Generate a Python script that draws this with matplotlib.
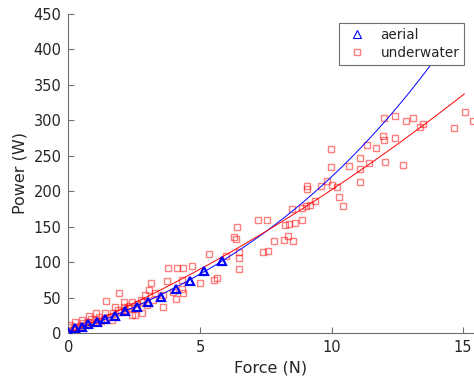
import numpy as np
import matplotlib
matplotlib.use('Agg')
import matplotlib.pyplot as plt

# aerial thrust test (triangles)
aerial_force = [0, 0.25, 0.51, 0.74, 1.08, 1.39, 1.77, 2.15, 2.6, 3.03, 3.52, 4.09, 4.62, 5.15, 5.84]
aerial_power = [1.4, 7, 8.5, 12.7, 15.5, 19.7, 24, 31, 36.7, 43.7, 50.8, 62, 73, 87, 101.5]

# underwater thrust test (squares)
water_force = [12.0, 12.42, 13.1, 12.84, 13.48, 13.37, 15.08, 15.38, 14.66, 11.96,
               12.0, 12.42, 11.35, 11.69, 9.98, 9.98, 10.66, 11.08, 11.08, 11.43,
               12.03, 12.72, 11.08, 9.07, 9.07, 9.6, 9.83, 10.02, 10.2, 10.29,
               10.44, 9.37, 9.18, 9.03, 8.87, 8.49, 8.88, 8.63, 8.38, 8.23,
               8.19, 8.35, 8.52, 7.81, 7.41, 7.6, 7.22, 7.55, 6.39, 6.31,
               6.35, 6.49, 6.49, 6.47, 5.99, 5.35, 5.63, 5.53, 5.0, 3.79,
               4.11, 4.36, 4.68, 4.3, 3.73, 4.3, 4.34, 4.08, 3.6, 3.13,
               3.07, 3.6, 3.98, 2.91, 3.29, 3.22, 1.93, 1.44, 2.1, 2.41,
               2.1, 1.78, 2.25, 2.41, 2.79, 2.53, 1.06, 1.4, 1.7, 0.77,
               0.51, 0.26, 0.07, 0.0, 0.05, 0.15, 0.25, 0.3, 0.45, 0.55,
               0.65, 0.75, 0.85, 0.95, 1.05, 1.15, 1.25, 1.35, 1.55, 1.65,
               1.9, 2.0, 2.15, 2.3, 2.6, 2.75, 2.85, 3.0]
water_power = [303, 306, 303, 299, 295, 291, 312, 299, 289, 278,
               272, 275, 265, 261, 260, 234, 236, 247, 231, 240,
               241, 237, 213, 207, 203, 207, 214, 209, 206, 192,
               179, 186, 181, 179, 176, 175, 159, 155, 154, 152,
               131, 137, 130, 130, 114, 115, 160, 159, 150, 136,
               132, 114, 106, 90, 108, 111, 77, 75, 70, 91,
               91, 92, 95, 75, 73, 62, 57, 48, 37, 70,
               61, 54, 58, 54, 56, 47, 56, 45, 44, 44,
               37, 36, 35, 26, 28, 25, 28, 28, 28, 24,
               19, 16, 11, 8, 2, 4, 6, 9, 10, 14,
               11, 16, 20, 14, 18, 22, 17, 20, 23, 19,
               33, 30, 33, 38, 41, 46, 44, 40]

# fitted curves (polynomial coefficients, highest first)
aerial_fit = [0.0403, 0.48, 13.2, 0]
water_fit = [0.439, 15.8, 0]

fig = plt.figure(figsize=(4.74, 3.79), dpi=100)
ax = fig.add_axes([0.1445, 0.1214, 0.8534, 0.8417])

txt = '#262626'
ax.plot(aerial_force, aerial_power, '^', color='blue', mfc='none', ms=6, mew=1.6,
        label='aerial', zorder=3)
ax.plot(water_force, water_power, 's', color='red', mfc='none', ms=4.8, mew=1.0,
        alpha=0.5, label='underwater', zorder=2)

fa = np.linspace(-0.15, 14.5, 300)
fw = np.linspace(-0.15, 15.05, 300)
ax.plot(fa, np.polyval(aerial_fit, fa), color='blue', lw=0.7, zorder=2)
ax.plot(fw, np.polyval(water_fit, fw), color='red', lw=0.7, zorder=2)

ax.set_xlim(0, 15.38)
ax.set_ylim(0, 450)
ax.set_xticks([0, 5, 10, 15])
ax.set_yticks(np.arange(0, 451, 50))
for s in ['top', 'right']:
    ax.spines[s].set_visible(False)
for s in ['left', 'bottom']:
    ax.spines[s].set_color('#6e6e6e')
    ax.spines[s].set_linewidth(0.8)
ax.tick_params(direction='in', length=4, width=0.8, color='#6e6e6e',
               labelsize=10.5, labelcolor=txt, pad=5)
ax.set_xlabel('Force (N)', fontsize=11.5, color=txt, labelpad=4)
ax.set_ylabel('Power (W)', fontsize=11.5, color=txt, labelpad=4)

leg = ax.legend(loc='upper right', bbox_to_anchor=(0.979, 0.939),
                bbox_transform=fig.transFigure, fancybox=False, framealpha=1,
                edgecolor='#6e6e6e', fontsize=9.8, handletextpad=0.7,
                borderpad=0.35, labelspacing=0.3, handlelength=2.0,
                borderaxespad=0)
leg.get_frame().set_linewidth(0.8)
for t in leg.get_texts():
    t.set_color(txt)
leg.legend_handles[0].set_markeredgewidth(0.8)

plt.savefig('out.png', dpi=100)
